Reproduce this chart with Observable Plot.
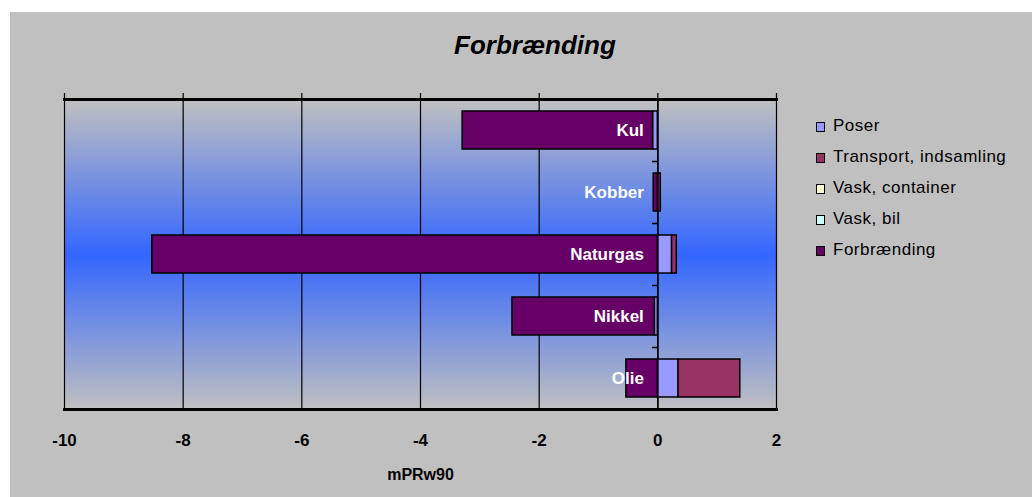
<!DOCTYPE html>
<html><head><meta charset="utf-8">
<script src="https://cdn.jsdelivr.net/npm/d3@7"></script>
<script src="https://cdn.jsdelivr.net/npm/@observablehq/plot@0.6"></script>
<style>
body{margin:0;background:#fff;}
#wrap{position:relative;width:1032px;height:497px;font-family:"Liberation Sans",Arial,sans-serif;overflow:hidden;}
#bg{position:absolute;left:10px;top:12px;right:0;bottom:0;background:#c0c0c0;}
#chart{position:absolute;left:0;top:0;}
#title{position:absolute;left:420px;width:230px;top:30px;text-align:center;font-style:italic;font-weight:bold;font-size:26px;color:#000;}
#legend{position:absolute;left:816px;top:116px;}
.li{position:relative;height:31px;font-size:17px;letter-spacing:0.5px;color:#000;white-space:nowrap;}
.sw{position:absolute;left:0;top:6px;width:7px;height:8px;border:1.5px solid #000;}
.lt{position:absolute;left:17px;top:0;}
</style></head>
<body>
<div id="wrap"><div id="bg"></div><div id="chart"></div><div id="title">Forbrænding</div><div id="legend"></div></div>
<script>
const categories = ["Kul", "Kobber", "Naturgas", "Nikkel", "Olie"];
const seriesNames = ["Poser", "Transport, indsamling", "Vask, container", "Vask, bil", "Forbrænding"];
const poser = [-0.08, 0, 0.24, -0.05, 0.35];
const transport = [0, 0.05, 0.08, 0, 1.04];
const vaskContainer = [0, 0, 0, 0, 0];
const vaskBil = [0, 0, 0, 0, 0];
const forbraending = [-3.21, -0.07, -8.52, -2.40, -0.53];
const seriesColors = ["#9999ff", "#993366", "#ffffcc", "#ccffff", "#660066"];
const xTicks = [-10, -8, -6, -4, -2, 0, 2];
const axisTitle = "mPRw90";

const seriesValues = [poser, transport, vaskContainer, vaskBil, forbraending];
const rows = [];
seriesNames.forEach((s, si) => categories.forEach((c, ci) => {
  rows.push({series: s, category: c, value: seriesValues[si][ci]});
}));
const drawn = rows.filter(d => d.value !== 0);

const plot = Plot.plot({
  width: 1032, height: 497,
  marginLeft: 64, marginRight: 256, marginTop: 99, marginBottom: 88,
  style: {background: "transparent", fontFamily: "'Liberation Sans', Arial, sans-serif", color: "#000"},
  x: {domain: [-10, 2], ticks: xTicks},
  y: {domain: categories, paddingInner: 0.38, paddingOuter: 0.19, axis: null},
  color: {domain: seriesNames, range: seriesColors},
  marks: [
    Plot.frame({fill: "url(#plotbg)", stroke: "none"}),
    Plot.ruleX(xTicks, {stroke: "#000", strokeWidth: 1.2}),
    Plot.barX(drawn, Plot.stackX({x: "value", y: "category", fill: "series", z: "series", order: seriesNames, stroke: "#000", strokeWidth: 1.5})),
    Plot.ruleX([0], {stroke: "#000", strokeWidth: 1.5}),
    Plot.ruleY(categories.slice(1), {x1: -0.09, x2: 0, dy: -31, stroke: "#000", strokeWidth: 1.5}),
    Plot.text(categories, {x: 0, y: d => d, text: d => d, textAnchor: "end", dx: -14, fill: "white", fontWeight: "bold", fontSize: 17}),
    Plot.axisX({anchor: "top", ticks: xTicks, tickSize: 7, tickFormat: () => "", strokeWidth: 1.2, label: null}),
    Plot.frame({anchor: "top", stroke: "#000", strokeWidth: 3}),
    Plot.frame({anchor: "bottom", stroke: "#000", strokeWidth: 3}),
    Plot.axisX({anchor: "bottom", ticks: xTicks, tickSize: 0, tickPadding: 24, fontSize: 17, fontWeight: "bold",
      tickFormat: d => String(d),
      label: axisTitle, labelAnchor: "center", labelArrow: "none", labelOffset: 70})
  ]
});
const svg = d3.select(plot);
const grad = svg.insert("defs", ":first-child").append("linearGradient")
  .attr("id", "plotbg").attr("x1", 0).attr("y1", 0).attr("x2", 0).attr("y2", 1);
grad.append("stop").attr("offset", "0%").attr("stop-color", "#c0c0c0");
grad.append("stop").attr("offset", "50%").attr("stop-color", "#3366ff");
grad.append("stop").attr("offset", "100%").attr("stop-color", "#c0c0c0");
svg.selectAll("[aria-label='x-axis label'] text, [aria-label='x-axis label']").attr("font-weight", "bold").attr("font-size", 16);
document.getElementById("chart").appendChild(plot);

const legend = document.getElementById("legend");
seriesNames.forEach((s, i) => {
  const li = document.createElement("div"); li.className = "li";
  const sw = document.createElement("div"); sw.className = "sw"; sw.style.background = seriesColors[i];
  const t = document.createElement("div"); t.className = "lt"; t.textContent = s;
  li.appendChild(sw); li.appendChild(t); legend.appendChild(li);
});
</script>
</body></html>
